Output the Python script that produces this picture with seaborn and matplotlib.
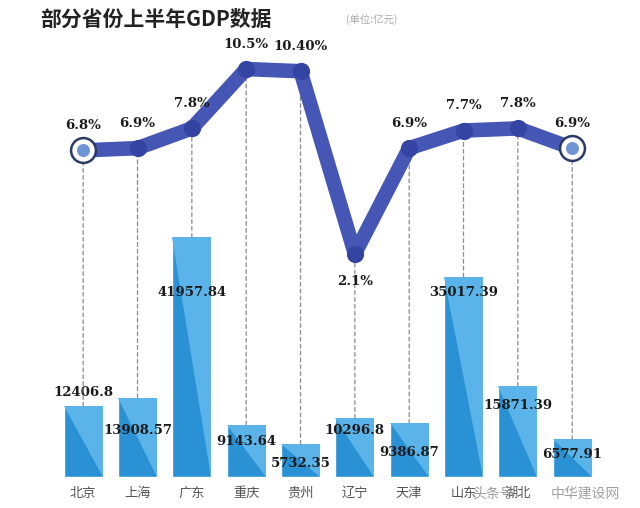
import numpy as np
import pandas as pd
import matplotlib.pyplot as plt
from matplotlib.patches import Polygon, ConnectionPatch
import seaborn as sns

# data
provinces = ["北京", "上海", "广东", "重庆", "贵州", "辽宁", "天津", "山东", "湖北", "吉林"]
gdp = [12406.8, 13908.57, 41957.84, 9143.64, 5732.35, 10296.8, 9386.87, 35017.39, 15871.39, 6577.91]
gdp_text = ["12406.8", "13908.57", "41957.84", "9143.64", "5732.35", "10296.8", "9386.87", "35017.39", "15871.39", "6577.91"]
growth = [6.8, 6.9, 7.8, 10.5, 10.4, 2.1, 6.9, 7.7, 7.8, 6.9]
growth_text = ["6.8%", "6.9%", "7.8%", "10.5%", "10.40%", "2.1%", "6.9%", "7.7%", "7.8%", "6.9%"]

# label offsets (points) for the bar values, relative to the bar top
bar_label_dy = [10, -24, -40, -12, -14, -9, -21, -11, -14, -11]

df = pd.DataFrame({"province": provinces, "gdp": gdp})
idx = np.arange(len(provinces))

sns.set_theme(style="white")
plt.rcParams["font.family"] = ["Noto Sans CJK SC", "DejaVu Sans"]

fig = plt.figure(figsize=(6.4, 5.08), dpi=100)
ax = fig.add_axes([0.0875, 0.061, 0.849, 0.82])

dark_blue = "#2a91d4"
light_blue = "#5ab4e9"
line_blue = "#4656b4"
point_blue = "#3444a2"

sns.barplot(data=df, x="province", y="gdp", color=dark_blue, saturation=1, width=0.72, ax=ax)
ax.set_xlim(-0.5, len(provinces) - 0.5)
ax.set_ylim(0, 72900)

# two tone bars: lighter upper-right triangle
for p in ax.patches:
    x0, w, h = p.get_x(), p.get_width(), p.get_height()
    ax.add_patch(Polygon([(x0, h), (x0 + w, h), (x0 + w, 0)], closed=True,
                         facecolor=light_blue, edgecolor="none", zorder=p.get_zorder() + 0.1))

for i, (v, t) in enumerate(zip(gdp, gdp_text)):
    ax.annotate(t, (i, v), xytext=(0, bar_label_dy[i]), textcoords="offset points",
                ha="center", va="center", fontsize=9.5, fontweight="bold",
                family="DejaVu Serif", color="#1a1a1a", zorder=5)

ax.set_xlabel("")
ax.set_ylabel("")
ax.set_yticks([])
ax.tick_params(axis="x", length=0, pad=7, labelsize=9.5, labelcolor="#555555")
ax.set_xticks(idx, provinces)
# last label sits under the watermark
ax.get_xticklabels()[-1].set_visible(False)
for s in ax.spines.values():
    s.set_visible(False)

# growth line on a twin axis
ax2 = ax.twinx()
ax2.set_ylim(-8.06, 10.89)
sns.lineplot(x=idx, y=growth, ax=ax2, color=line_blue, linewidth=10.5,
             solid_capstyle="round", solid_joinstyle="round", zorder=3)
ax2.scatter(idx[1:-1], np.array(growth)[1:-1], s=130, color=point_blue, zorder=4)
ends = [0, len(idx) - 1]
ax2.scatter(idx[ends], np.array(growth)[ends], s=320, facecolor="white",
            edgecolor="#2c3a66", linewidth=1.8, zorder=4)
ax2.scatter(idx[ends], np.array(growth)[ends], s=70, color="#6f95d6", zorder=5)

# dashed drops from each point to its bar
for i in idx:
    con = ConnectionPatch(xyA=(i, gdp[i]), coordsA=ax.transData,
                          xyB=(i, growth[i]), coordsB=ax2.transData,
                          linestyle=(0, (3, 2.5)), color="#8a8a8a", linewidth=0.9, zorder=1)
    ax2.add_artist(con)

low = int(np.argmin(growth))
for i, t in enumerate(growth_text):
    dy = -20 if i == low else 18
    ax2.annotate(t, (i, growth[i]), xytext=(0, dy), textcoords="offset points",
                 ha="center", va="center", fontsize=9.5, fontweight="bold",
                 family="DejaVu Serif", color="#1a1a1a", zorder=6)

ax2.set_yticks([])
ax2.set_ylabel("")
for s in ax2.spines.values():
    s.set_visible(False)

fig.text(0.0625, 0.962, "部分省份上半年GDP数据", fontsize=15, fontweight="bold",
         color="#222222", ha="left", va="center")
fig.text(0.54, 0.962, "(单位:亿元)", fontsize=7.5, color="#aaaaaa", ha="left", va="center")

# watermark
fig.text(0.77, 0.029, "头条号", fontsize=10, color="#888888", alpha=0.8, ha="center", va="center")
fig.text(0.915, 0.029, "中华建设网", fontsize=10, color="#888888", alpha=0.8, ha="center", va="center")

fig.savefig("out.png", dpi=100, facecolor="white")
